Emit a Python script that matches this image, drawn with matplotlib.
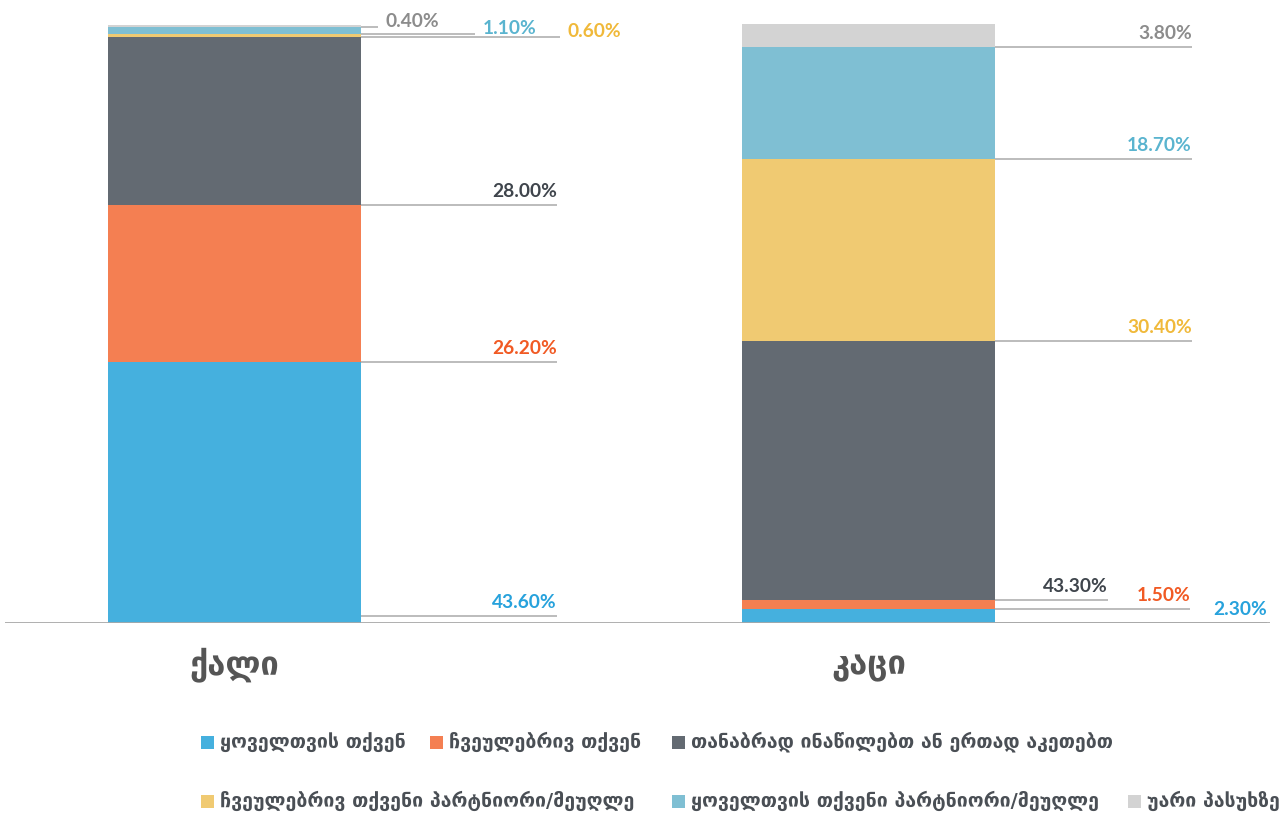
import numpy as np
import matplotlib.pyplot as plt
from matplotlib.patches import Rectangle

# =====================================================
# DATA
# =====================================================

categories = ["ქალი", "კაცი"]

series_names = [
    "ყოველთვის თქვენ",
    "ჩვეულებრივ თქვენ",
    "თანაბრად ინაწილებთ ან ერთად აკეთებთ",
    "ჩვეულებრივ თქვენი პარტნიორი/მეუღლე",
    "ყოველთვის თქვენი პარტნიორი/მეუღლე",
    "უარი პასუხზე",
]

always_you = [43.6, 2.3]
usually_you = [26.2, 1.5]
equally = [28.0, 43.3]
usually_partner = [0.6, 30.4]
always_partner = [1.1, 18.7]
refused = [0.4, 3.8]

values = [always_you, usually_you, equally, usually_partner, always_partner, refused]

# =====================================================
# STYLE
# =====================================================

bar_colors = ["#45b0de", "#f47f52", "#636a72", "#f0ca72", "#7fbfd3", "#d3d3d3"]
text_colors = ["#27a2dc", "#f15a24", "#3f454c", "#f0b93a", "#5ab4cf", "#8c8c8c"]

W, H = 1287, 815
PX_PER_UNIT = 634.0      # pixels between the two bar centres
BAR_WIDTH = 253 / PX_PER_UNIT

# leader length (px) per bar / series, and label mode
leader_len = [
    [196, 196, 196, 199, 114, 17],
    [272, 195, 113, 197, 197, 197],
]
label_mode = [
    ["above", "above", "above", "right", "right", "right"],
    ["above", "above", "above", "above", "above", "above"],
]
# small vertical shifts (px) for the leader lines
line_shift = [
    [-7, 0, 0, 0, 0, 0],
    [0, 0, 0, 0, 0, 0],
]
# text vertical offsets (px) for "right" labels relative to line
right_dy = [5, 5, 5, 6, 5, 5]

NUM_FONT = ["Lato", "DejaVu Sans"]
GEO_FONT = ["DejaVu Sans"]

# =====================================================
# FIGURE
# =====================================================

fig = plt.figure(figsize=(W / 100, H / 100), dpi=100)

ax_left, ax_right = 5, 1270
ax_top, ax_bot = 24, 623
ax = fig.add_axes([
    ax_left / W,
    (H - ax_bot) / H,
    (ax_right - ax_left) / W,
    (ax_bot - ax_top) / H,
])

x = np.arange(len(categories))
ax.set_xlim(
    0 - (234.5 - ax_left) / PX_PER_UNIT,
    1 + (ax_right - 868.5) / PX_PER_UNIT,
)
ax.set_ylim(0, 100)

y_per_px = 100 / (ax_bot - ax_top)

bottoms = np.zeros(len(categories))

for s, vals in enumerate(values):

    vals = np.array(vals, dtype=float)

    ax.bar(
        x,
        vals,
        bottom=bottoms,
        width=BAR_WIDTH,
        color=bar_colors[s],
        edgecolor="none",
        zorder=2,
    )

    for i in range(len(categories)):

        x_start = x[i] + BAR_WIDTH / 2
        x_end = x_start + leader_len[i][s] / PX_PER_UNIT
        y_line = bottoms[i] - line_shift[i][s] * y_per_px

        ax.plot(
            [x_start, x_end],
            [y_line, y_line],
            color="#b0b0b0",
            lw=1.2,
            zorder=1,
            solid_capstyle="butt",
        )

        label = f"{vals[i]:.2f}%"

        if label_mode[i][s] == "above":
            ax.annotate(
                label,
                xy=(x_end, y_line),
                xytext=(0, 8),
                textcoords="offset pixels",
                ha="right",
                va="baseline",
                fontsize=13.8,
                fontweight="bold",
                family=NUM_FONT,
                color=text_colors[s],
            )
        else:
            ax.annotate(
                label,
                xy=(x_end, y_line),
                xytext=(8, right_dy[s]),
                textcoords="offset pixels",
                ha="left",
                va="center",
                fontsize=13.8,
                fontweight="bold",
                family=NUM_FONT,
                color=text_colors[s],
            )

    bottoms += vals

# baseline
ax.axhline(0, color="#a8a8a8", lw=2, zorder=3)

for side in ["top", "right", "left", "bottom"]:
    ax.spines[side].set_visible(False)

ax.set_xticks([])
ax.set_yticks([])

# =====================================================
# CATEGORY LABELS
# =====================================================

for i, cat in enumerate(categories):
    ax.annotate(
        cat,
        xy=(x[i], 0),
        xytext=(0, -42),
        textcoords="offset pixels",
        ha="center",
        va="center",
        fontsize=23.5,
        fontweight="bold",
        family=GEO_FONT,
        color="#555555",
        annotation_clip=False,
    )

# =====================================================
# LEGEND
# =====================================================

legend_pos = [
    (201, 742), (430, 742), (672, 742),
    (201, 801), (672, 801), (1128, 801),
]

sq = 13

for s, name in enumerate(series_names):

    lx, ly = legend_pos[s]

    fig.patches.append(
        Rectangle(
            (lx / W, (H - ly - sq / 2) / H),
            sq / W,
            sq / H,
            transform=fig.transFigure,
            facecolor=bar_colors[s],
            edgecolor="none",
        )
    )

    fig.text(
        (lx + sq + 6) / W,
        (H - ly) / H,
        name,
        ha="left",
        va="center",
        fontsize=14,
        fontweight="bold",
        family=GEO_FONT,
        color="#4a4f55",
    )

fig.savefig("out.png", dpi=100, facecolor="white")
